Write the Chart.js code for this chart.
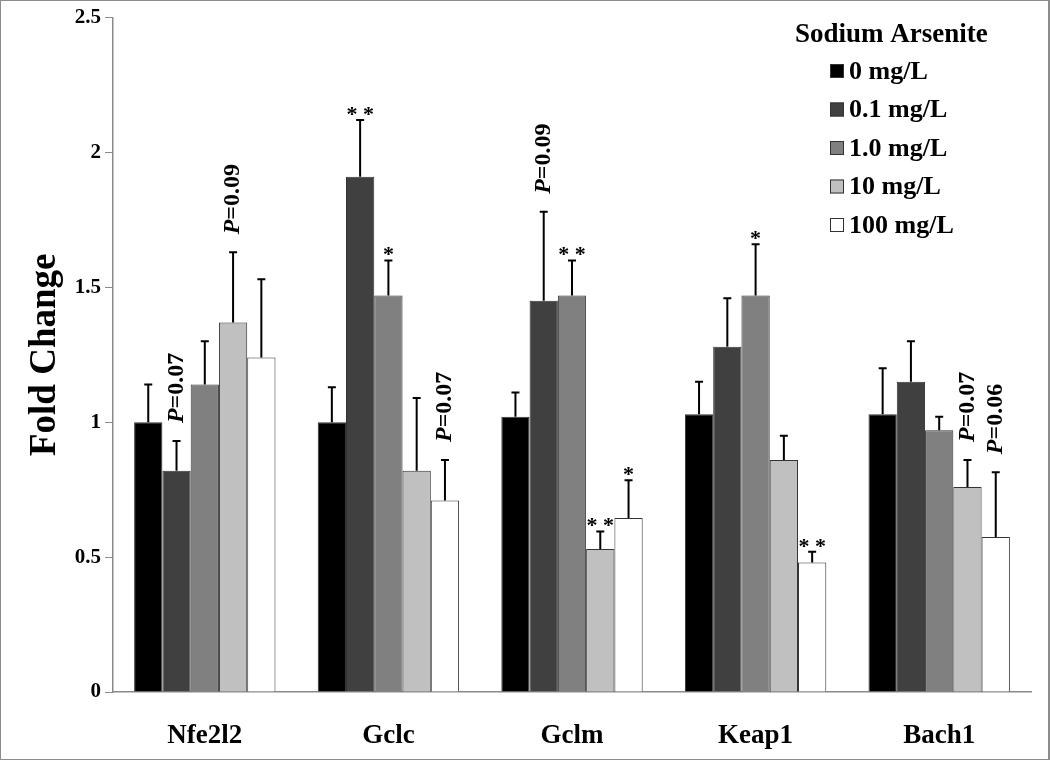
<!DOCTYPE html>
<html>
<head>
<meta charset="utf-8">
<title>Fold Change - Sodium Arsenite</title>
<script src="https://cdn.jsdelivr.net/npm/chart.js@4.4.0/dist/chart.umd.min.js"></script>
<style>
    body { margin: 0; background: #fff; }
    #wrap { position: relative; width: 1050px; height: 760px; box-sizing: border-box; border: 1px solid #8c8c8c; border-right-width: 2px; }
    canvas { display: block; }
</style>
</head>
<body>
<div id="wrap"><canvas id="chart" width="1047" height="758"></canvas></div>
<script>
// genes on the x axis
const genes = ['Nfe2l2', 'Gclc', 'Gclm', 'Keap1', 'Bach1'];

// dose groups (legend)
const doses = ['0 mg/L', '0.1 mg/L', '1.0 mg/L', '10 mg/L', '100 mg/L'];
const doseColors = ['#000000', '#404040', '#808080', '#c0c0c0', '#ffffff'];

// mean fold change per dose, one value per gene
const dose0 = [1.00, 1.00, 1.02, 1.03, 1.03];
const dose01 = [0.82, 1.91, 1.45, 1.28, 1.15];
const dose1 = [1.14, 1.47, 1.47, 1.47, 0.97];
const dose10 = [1.37, 0.82, 0.53, 0.86, 0.76];
const dose100 = [1.24, 0.71, 0.645, 0.48, 0.575];

// error (upper bar only)
const err0 = [0.14, 0.13, 0.09, 0.12, 0.17];
const err01 = [0.11, 0.21, 0.33, 0.18, 0.15];
const err1 = [0.16, 0.13, 0.13, 0.19, 0.05];
const err10 = [0.26, 0.27, 0.065, 0.09, 0.10];
const err100 = [0.29, 0.15, 0.14, 0.04, 0.24];

// significance marks above the error bars
const mark0 = ['', '', '', '', ''];
const mark01 = ['P=0.07', '**', 'P=0.09', '', ''];
const mark1 = ['', '*', '**', '*', ''];
const mark10 = ['P=0.09', '', '**', '', 'P=0.07'];
const mark100 = ['', 'P=0.07', '*', '**', 'P=0.06'];

const yTicks = [0, 0.5, 1, 1.5, 2, 2.5];
const yTickLabels = ['0', '0.5', '1', '1.5', '2', '2.5'];

const values = [dose0, dose01, dose1, dose10, dose100];
const errors = [err0, err01, err1, err10, err100];
const marks = [mark0, mark01, mark1, mark10, mark100];

const serif = '"Liberation Serif", "Times New Roman", serif';

// draw error bars and the star / P labels
const errorBars = {
    id: 'errorBars',
    afterDatasetsDraw(chart) {
        const ctx = chart.ctx;
        const yScale = chart.scales.y;
        ctx.save();
        values.forEach((series, i) => {
            const meta = chart.getDatasetMeta(i);
            meta.data.forEach((bar, j) => {
                const top = yScale.getPixelForValue(series[j] + errors[i][j]);
                ctx.strokeStyle = '#000';
                ctx.lineWidth = 2;
                ctx.beginPath();
                ctx.moveTo(bar.x, bar.y);
                ctx.lineTo(bar.x, top);
                ctx.moveTo(bar.x - 4, top);
                ctx.lineTo(bar.x + 4, top);
                ctx.stroke();

                const m = marks[i][j];
                if (!m) return;
                ctx.fillStyle = '#000';
                if (m.startsWith('P')) {
                    ctx.save();
                    ctx.translate(bar.x, top - 18);
                    ctx.rotate(-Math.PI / 2);
                    ctx.textBaseline = 'middle';
                    ctx.textAlign = 'left';
                    ctx.font = 'italic bold 24px ' + serif;
                    ctx.fillText('P', 0, 0);
                    const w = ctx.measureText('P').width;
                    ctx.font = 'bold 24px ' + serif;
                    ctx.fillText(m.slice(1), w, 0);
                    ctx.restore();
                } else {
                    ctx.font = 'bold 22px ' + serif;
                    ctx.textAlign = 'center';
                    ctx.textBaseline = 'alphabetic';
                    ctx.fillText(m.split('').join(' '), bar.x, top + 1);
                }
            });
        });
        ctx.restore();
    }
};

// legend box in the upper right corner
const cornerLegend = {
    id: 'cornerLegend',
    afterDraw(chart) {
        const ctx = chart.ctx;
        ctx.save();
        ctx.fillStyle = '#000';
        ctx.textBaseline = 'middle';
        ctx.textAlign = 'left';
        ctx.font = 'bold 27px ' + serif;
        ctx.fillText('Sodium Arsenite', 794, 34);
        ctx.font = 'bold 26px ' + serif;
        doses.forEach((d, i) => {
            const y = 70 + i * 38.5;
            ctx.fillStyle = doseColors[i];
            ctx.fillRect(829, y - 7, 14, 14);
            ctx.strokeStyle = '#333';
            ctx.lineWidth = 1;
            ctx.strokeRect(829.5, y - 6.5, 13, 13);
            ctx.fillStyle = '#000';
            ctx.fillText(d, 848, y + 1);
        });
        ctx.restore();
    }
};

new Chart(document.getElementById('chart'), {
    type: 'bar',
    data: {
        labels: genes,
        datasets: values.map((v, i) => ({
            label: doses[i],
            data: v,
            backgroundColor: doseColors[i],
            borderColor: '#333',
            borderWidth: 1,
            categoryPercentage: 0.77,
            barPercentage: 1
        }))
    },
    options: {
        responsive: false,
        animation: false,
        layout: { padding: { top: 12, right: 17 } },
        plugins: {
            legend: { display: false },
            tooltip: { enabled: false }
        },
        scales: {
            x: {
                grid: { display: false },
                border: { color: '#8a8a8a', width: 1.5 },
                ticks: { color: '#000', padding: 20, font: { family: serif, size: 27, weight: 'bold' } },
                afterFit: s => { s.height = 67; }
            },
            y: {
                min: 0,
                max: 2.5,
                afterBuildTicks: s => { s.ticks = yTicks.map(v => ({ value: v })); },
                grid: { display: true, drawOnChartArea: false, tickLength: 8, color: '#8a8a8a' },
                border: { color: '#8a8a8a', width: 1.5 },
                ticks: {
                    color: '#000',
                    padding: 4,
                    font: { family: serif, size: 21, weight: 'bold' },
                    callback: (v, i) => yTickLabels[i]
                },
                title: {
                    display: true,
                    text: 'Fold Change',
                    color: '#000',
                    padding: { top: 22 },
                    font: { family: serif, size: 37, weight: 'bold' }
                },
                afterFit: s => { s.width = 112; }
            }
        }
    },
    plugins: [errorBars, cornerLegend]
});
</script>
</body>
</html>
